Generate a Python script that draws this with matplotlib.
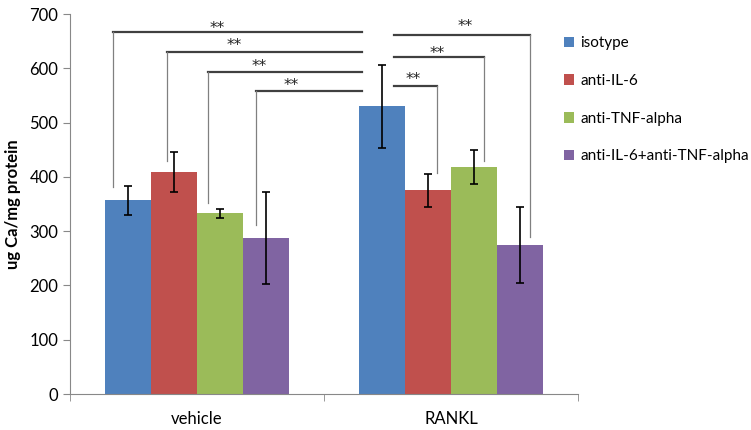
import numpy as np
import matplotlib
matplotlib.use("Agg")
import matplotlib.pyplot as plt
from matplotlib.ticker import FixedLocator, NullFormatter

plt.rcParams['font.family'] = ['Lato', 'DejaVu Sans']

# data
groups = ['vehicle', 'RANKL']
series = ['isotype', 'anti-IL-6', 'anti-TNF-alpha', 'anti-IL-6+anti-TNF-alpha']
colors = ['#4F81BD', '#C0504D', '#9BBB59', '#8064A2']
means = [[357, 409, 333, 287],
         [530, 375, 418, 275]]
errors = [[27, 36, 8, 85],
          [76, 30, 31, 70]]

# significance brackets: (x_start, x_end, y_line, y_drop)
brackets_left = [(-0.331, 0.650, 666, 381),
                 (-0.118, 0.650, 630, 429),
                 (0.043, 0.650, 593, 351),
                 (0.232, 0.650, 559, 311)]
brackets_right = [(0.776, 0.944, 567, 407),
                  (0.776, 1.130, 620, 429),
                  (0.776, 1.311, 662, 290)]
star_pos = [(0.079, 680), (0.146, 648), (0.244, 610), (0.370, 575),
            (1.055, 683), (0.945, 634), (0.850, 586)]

fig = plt.figure(figsize=(7.51, 4.30), dpi=100)
ax = fig.add_axes([0.0932, 0.0837, 0.6764, 0.8837])

width = 0.181
x = np.arange(len(groups))
for i, name in enumerate(series):
    vals = [m[i] for m in means]
    errs = [e[i] for e in errors]
    ax.bar(x + (i - 1.5) * width, vals, width, color=colors[i], label=name,
           yerr=errs, error_kw=dict(ecolor='black', elinewidth=1.2, capsize=3, capthick=1.2),
           zorder=2)

# brackets: thick horizontal, thin vertical drop at the start (left) or end (right)
for x0, x1, y, yd in brackets_left:
    ax.plot([x0, x1], [y, y], color='#404040', lw=1.6, zorder=3)
    ax.plot([x0, x0], [y, yd], color='#808080', lw=0.9, zorder=3)
for x0, x1, y, yd in brackets_right:
    ax.plot([x0, x1], [y, y], color='#404040', lw=1.6, zorder=3)
    ax.plot([x1, x1], [y, yd], color='#808080', lw=0.9, zorder=3)
for sx, sy in star_pos:
    ax.text(sx, sy - 6, '**', ha='center', va='center', fontsize=11, color='#222222',
            family='DejaVu Sans')

ax.set_xlim(-0.5, 1.5)
ax.set_ylim(0, 700)
ax.set_yticks(range(0, 701, 100))
ax.set_xticks(x)
ax.set_xticklabels(groups)
ax.tick_params(axis='x', which='major', length=0, labelsize=12, pad=12)
ax.xaxis.set_minor_locator(FixedLocator([-0.5, 0.5, 1.5]))
ax.xaxis.set_minor_formatter(NullFormatter())
ax.tick_params(axis='x', which='minor', length=5, color='#888888')
ax.tick_params(axis='y', length=5, color='#888888', labelsize=12)
for s in ['top', 'right']:
    ax.spines[s].set_visible(False)
for s in ['left', 'bottom']:
    ax.spines[s].set_color('#888888')
ax.set_ylabel('ug Ca/mg protein', fontsize=12, fontweight='bold', labelpad=6)

ax.legend(loc='upper left', bbox_to_anchor=(0.972, 0.941), frameon=False, fontsize=11,
          handlelength=0.7, handleheight=0.7, handletextpad=0.4, labelspacing=1.55,
          borderpad=0, borderaxespad=0)

fig.savefig('out.png', dpi=100)
